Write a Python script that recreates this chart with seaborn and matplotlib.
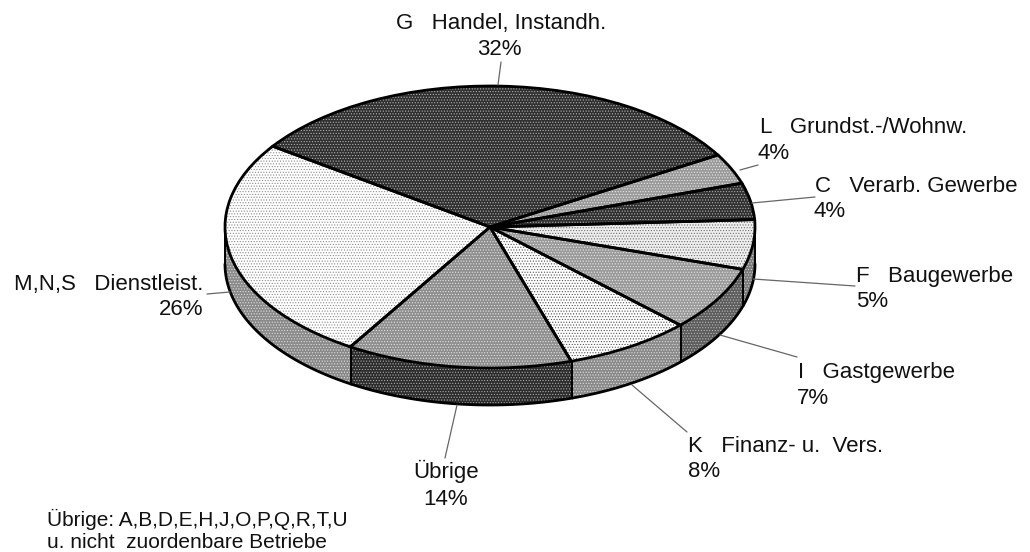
import numpy as np
import matplotlib.pyplot as plt
import seaborn as sns
from matplotlib.lines import Line2D

# Shares, going counter clockwise from G
NAMES = [
    "G   Handel, Instandh.",
    "M,N,S   Dienstleist.",
    "Übrige",
    "K   Finanz- u.  Vers.",
    "I   Gastgewerbe",
    "F   Baugewerbe",
    "C   Verarb. Gewerbe",
    "L   Grundst.-/Wohnw.",
]
SHARES = [31.8, 25.9, 13.8, 7.8, 7.4, 5.7, 4.2, 3.5]
PERCENT_LABELS = ["32%", "26%", "14%", "8%", "7%", "5%", "4%", "4%"]
FOOTNOTE = ["Übrige: A,B,D,E,H,J,O,P,Q,R,T,U", "u. nicht  zuordenbare Betriebe"]

TOP_COLORS = ["#303030", "#ffffff", "#8e8e8e", "#ffffff", "#9a9a9a", "#eeeeee", "#303030", "#9a9a9a"]
TOP_DOTS = ["#b0b0b0", "#8c8c8c", "#e4e4e4", "#555555", "#e8e8e8", "#707070", "#b0b0b0", "#e8e8e8"]
SIDE_COLORS = ["#303030", "#8a8a8a", "#2c2c2c", "#8a8a8a", "#5c5c5c", "#7a7a7a", "#303030", "#7a7a7a"]
SIDE_DOTS = ["#b0b0b0", "#dddddd", "#aaaaaa", "#dddddd", "#bbbbbb", "#d0d0d0", "#b0b0b0", "#d0d0d0"]

W, H = 1030, 552
CX, CY, RX, RY = 490, 227, 265, 141
DEPTH = 37 / RY
START = 30.7

# name x, name baseline, percent x, percent baseline, alignment
LABEL_POS = [
    (501, 29, 499, 55, "center"),
    (203, 290, 203, 315, "right"),
    (446, 478, 446, 505, "center"),
    (688, 452, 688, 477, "left"),
    (798, 378, 797, 404, "left"),
    (856, 282, 856, 307, "left"),
    (815, 192, 813, 217, "left"),
    (760, 133, 758, 159, "left"),
]
LEADERS = [
    (501, 62, 498, 85),
    (207, 294, 230, 292),
    (457, 405, 445, 458),
    (632, 385, 687, 432),
    (720, 335, 797, 357),
    (753, 279, 855, 286),
    (752, 203, 815, 197),
    (740, 170, 758, 165),
]

sns.set_theme(style="white")
plt.rcParams["font.family"] = ["Liberation Sans", "DejaVu Sans"]
plt.rcParams["hatch.linewidth"] = 0.5

fig = plt.figure(figsize=(W / 100, H / 100), dpi=100)
ax = fig.add_axes([0, 0, 1, 1])

# Top face: one pie for the stippled fill and one for the outlines
wedges, _ = ax.pie(
    SHARES,
    colors=sns.color_palette(TOP_COLORS),
    startangle=START,
    wedgeprops={"linewidth": 0, "zorder": 3},
)
for wedge, dots in zip(wedges, TOP_DOTS):
    wedge.set_hatch("......")
    wedge.set_edgecolor(dots)
ax.pie(
    SHARES,
    colors=["none"] * len(SHARES),
    startangle=START,
    wedgeprops={"linewidth": 2.0, "edgecolor": "black", "zorder": 4},
)

# Side wall, only the front half of each slice is visible
edges = START + np.cumsum([0] + SHARES) * 3.6
for i, name in enumerate(NAMES):
    for shift in (0, 360):
        lo = max(edges[i], 180 + shift)
        hi = min(edges[i + 1], 360 + shift)
        if hi <= lo:
            continue
        t = np.radians(np.linspace(lo, hi, 60))
        ax.fill_between(
            np.cos(t),
            np.sin(t),
            np.sin(t) - DEPTH,
            facecolor=SIDE_COLORS[i],
            edgecolor=SIDE_DOTS[i],
            hatch="......",
            linewidth=0,
            zorder=1,
        )
        ax.plot(np.cos(t), np.sin(t) - DEPTH, color="black", lw=2.0, zorder=2)
        for a in (t[0], t[-1]):
            ax.plot([np.cos(a)] * 2, [np.sin(a), np.sin(a) - DEPTH], color="black", lw=1.4, zorder=2)

ax.set_aspect("auto")
ax.set_xlim((0 - CX) / RX, (W - CX) / RX)
ax.set_ylim((CY - H) / RY, CY / RY)
ax.axis("off")

for name, pct, pos, line in zip(NAMES, PERCENT_LABELS, LABEL_POS, LEADERS):
    fig.text(pos[0] / W, 1 - pos[1] / H, name, ha=pos[4], va="baseline", fontsize=16, color="#111111")
    fig.text(pos[2] / W, 1 - pos[3] / H, pct, ha=pos[4], va="baseline", fontsize=16, color="#111111")
    fig.add_artist(
        Line2D(
            [line[0] / W, line[2] / W],
            [1 - line[1] / H, 1 - line[3] / H],
            color="#666666",
            lw=0.9,
        )
    )

for text, y in zip(FOOTNOTE, (526, 548)):
    fig.text(47 / W, 1 - y / H, text, ha="left", va="baseline", fontsize=15, color="#111111")

fig.savefig("out.png", dpi=100)
